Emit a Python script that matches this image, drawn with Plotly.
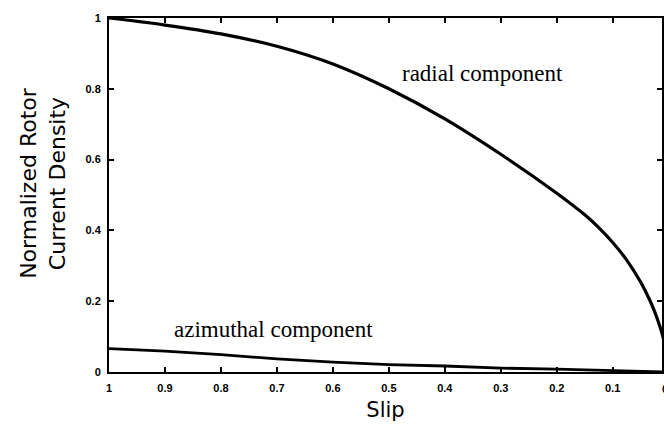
import plotly.graph_objects as go

# Slip values (x axis runs from 1 down to 0)
slip_radial = [1.0, 0.9, 0.8, 0.7, 0.6, 0.5, 0.4, 0.3, 0.2, 0.15, 0.125, 0.1, 0.075, 0.05,
               0.035, 0.025, 0.015, 0.01, 0.005, 0.0]
radial = [1.0, 0.98, 0.955, 0.92, 0.87, 0.80, 0.715, 0.615, 0.505, 0.444, 0.408, 0.366, 0.316,
          0.2535, 0.207, 0.17, 0.125, 0.0975, 0.068, 0.0]

slip_azim = [1.0, 0.9, 0.8, 0.7, 0.6, 0.5, 0.4, 0.3, 0.2, 0.1, 0.0]
azimuthal = [0.066, 0.059, 0.049, 0.037, 0.028, 0.021, 0.017, 0.011, 0.008, 0.005, 0.0]

x_ticks = [1, 0.9, 0.8, 0.7, 0.6, 0.5, 0.4, 0.3, 0.2, 0.1]
x_labels = ["1", "0.9", "0.8", "0.7", "0.6", "0.5", "0.4", "0.3", "0.2", "0.1"]
y_ticks = [0, 0.2, 0.4, 0.6, 0.8, 1]
y_labels = ["0", "0.2", "0.4", "0.6", "0.8", "1"]

fig = go.Figure()
fig.add_trace(go.Scatter(x=slip_radial, y=radial, mode="lines",
                         line=dict(color="black", width=3.2, shape="spline", smoothing=1),
                         showlegend=False))
fig.add_trace(go.Scatter(x=slip_azim, y=azimuthal, mode="lines",
                         line=dict(color="black", width=2.8),
                         showlegend=False))

tickfont = dict(family="Liberation Sans", size=11, color="black", weight="bold")

fig.update_layout(
    width=664, height=425,
    margin=dict(l=109, r=0, t=18, b=53),
    plot_bgcolor="white", paper_bgcolor="white",
    xaxis=dict(range=[1, 0.012], tickvals=x_ticks, ticktext=x_labels,
               ticks="inside", ticklen=5, tickwidth=1.5, tickcolor="black",
               showline=True, linecolor="black", linewidth=2, mirror="ticks",
               showgrid=False, zeroline=False, tickfont=tickfont, ticklabelstandoff=5,
               title=dict(text="Slip", font=dict(family="DejaVu Sans", size=21, color="black"),
                          standoff=9)),
    yaxis=dict(range=[0, 1], tickvals=y_ticks, ticktext=y_labels,
               ticks="inside", ticklen=5, tickwidth=1.5, tickcolor="black",
               showline=True, linecolor="black", linewidth=2, mirror="ticks",
               showgrid=False, zeroline=False, tickfont=tickfont, ticklabelstandoff=4),
    annotations=[
        dict(x=-0.172, y=0.534, xref="paper", yref="paper", textangle=-90,
             text="Normalized Rotor<br>Current Density", showarrow=False,
             font=dict(family="DejaVu Sans", size=22, color="black")),
        dict(x=0.333, y=0.842, xref="x", yref="y", text="radial component", showarrow=False,
             font=dict(family="Liberation Serif", size=23, color="black")),
        dict(x=0.707, y=0.121, xref="x", yref="y", text="azimuthal component", showarrow=False,
             font=dict(family="Liberation Serif", size=23, color="black")),
        dict(x=1.006, y=0, xref="paper", yref="paper", yshift=-9, text="0", showarrow=False,
             xanchor="center", yanchor="top", font=tickfont),
    ],
)

fig.write_html("out.html")
